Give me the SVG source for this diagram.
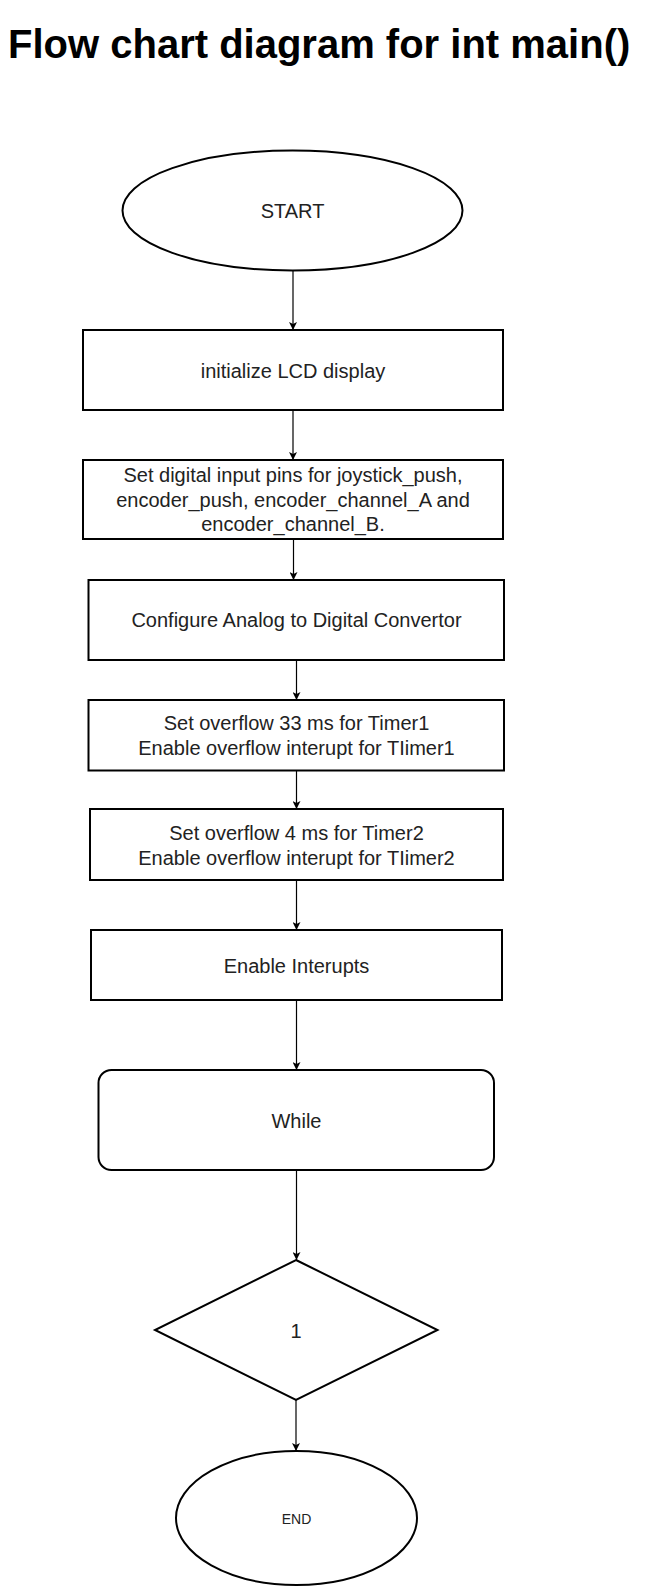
<svg xmlns="http://www.w3.org/2000/svg" width="652" height="1587" viewBox="0 0 652 1587">
<style>
.shape{fill:#fff;stroke:#000;stroke-width:2}
.lbl{font-family:"Liberation Sans",Arial,sans-serif;font-size:20px;fill:#222;text-anchor:middle;dominant-baseline:central}
.conn{stroke:#000;stroke-width:1.2;fill:none;marker-end:url(#arr)}
.title{font-family:"Liberation Sans",Arial,sans-serif;font-size:40px;font-weight:bold;fill:#000}
</style>
<defs>
<marker id="arr" viewBox="0 0 10 10" refX="10" refY="5" markerWidth="8" markerHeight="8" markerUnits="userSpaceOnUse" orient="auto">
<path d="M0,0 L10,5 L0,10 L2.5,5 Z" fill="#000"/>
</marker>
</defs>
<rect width="652" height="1587" fill="#fff"/>
<text class="title" x="8" y="58">Flow chart diagram for int main()</text>
<g id="connectors">
<line class="conn" x1="293" y1="271" x2="293" y2="330"/>
<line class="conn" x1="293" y1="410" x2="293" y2="460"/>
<line class="conn" x1="293.5" y1="539" x2="293.5" y2="580"/>
<line class="conn" x1="296.5" y1="660" x2="296.5" y2="700"/>
<line class="conn" x1="296.5" y1="770.5" x2="296.5" y2="809"/>
<line class="conn" x1="296.5" y1="880" x2="296.5" y2="930"/>
<line class="conn" x1="296.5" y1="1000" x2="296.5" y2="1070"/>
<line class="conn" x1="296.5" y1="1170" x2="296.5" y2="1260"/>
<line class="conn" x1="296" y1="1400" x2="296" y2="1451"/>
</g>
<g id="start">
<ellipse class="shape" cx="292.5" cy="210.5" rx="170" ry="60"/>
<text class="lbl" x="292.5" y="211">START</text>
</g>
<g id="init-lcd">
<rect class="shape" x="83" y="330" width="420" height="80"/>
<text class="lbl" x="293" y="371">initialize LCD display</text>
</g>
<g id="digital-inputs">
<rect class="shape" x="83" y="460" width="420" height="79"/>
<text class="lbl" x="293" y="475">Set digital input pins for joystick_push,</text>
<text class="lbl" x="293" y="499.5">encoder_push, encoder_channel_A and</text>
<text class="lbl" x="293" y="524">encoder_channel_B.</text>
</g>
<g id="adc">
<rect class="shape" x="88.5" y="580" width="415.5" height="80"/>
<text class="lbl" x="296.5" y="620">Configure Analog to Digital Convertor</text>
</g>
<g id="timer1">
<rect class="shape" x="88.5" y="700" width="415.5" height="70.5"/>
<text class="lbl" x="296.5" y="723">Set overflow 33 ms for Timer1</text>
<text class="lbl" x="296.5" y="748">Enable overflow interupt for TIimer1</text>
</g>
<g id="timer2">
<rect class="shape" x="90" y="809" width="413" height="71"/>
<text class="lbl" x="296.5" y="832.5">Set overflow 4 ms for Timer2</text>
<text class="lbl" x="296.5" y="857.5">Enable overflow interupt for TIimer2</text>
</g>
<g id="enable-interrupts">
<rect class="shape" x="91" y="930" width="411" height="70"/>
<text class="lbl" x="296.5" y="966">Enable Interupts</text>
</g>
<g id="while">
<rect class="shape" x="98.5" y="1070" width="395.5" height="100" rx="13" ry="13"/>
<text class="lbl" x="296.5" y="1121">While</text>
</g>
<g id="condition">
<polygon class="shape" points="296,1260 437.5,1330 296,1400 155,1330"/>
<text class="lbl" x="296" y="1331">1</text>
</g>
<g id="end">
<ellipse class="shape" cx="296.5" cy="1518" rx="120.5" ry="67"/>
<text class="lbl" x="296.5" y="1519" style="font-size:14px">END</text>
</g>
</svg>
